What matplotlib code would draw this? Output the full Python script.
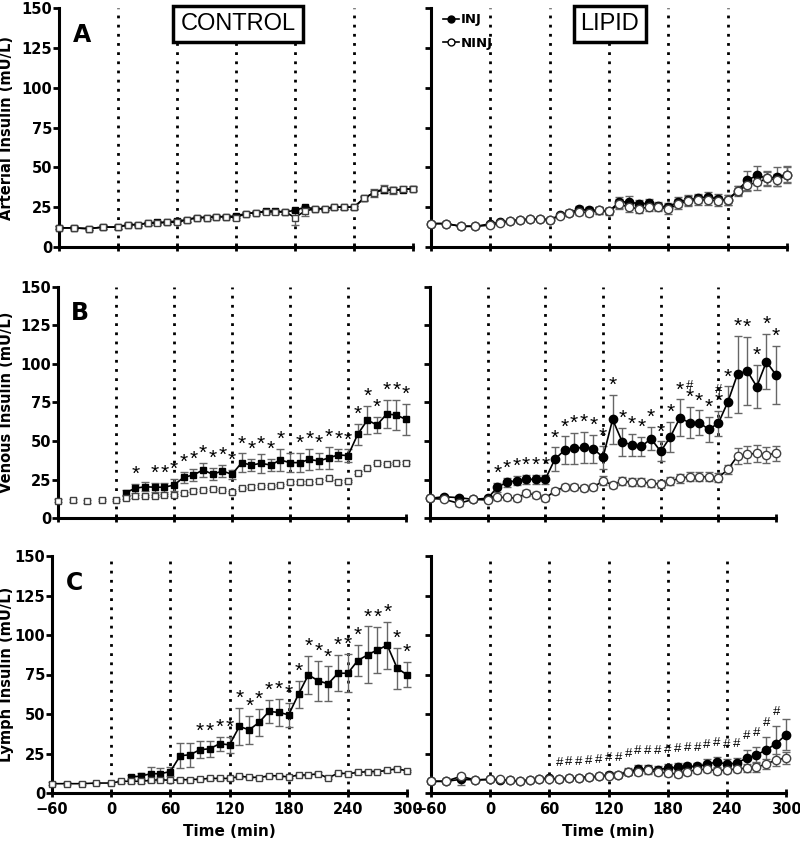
import numpy as np
import matplotlib.pyplot as plt

plt.rcParams['font.family'] = ['DejaVu Sans']

# Sampling times (min)
t = [-60, -45, -30, -15] + list(range(0, 301, 10))

# CONTROL - arterial
ctrl_art_ninj = [12, 12, 11.5, 12.5, 12.5, 14, 14, 15, 15, 15.5, 15.5, 17, 18.5, 18.5, 19, 19, 18.5,
                 21, 21.5, 22, 22, 22, 18.5, 22.5, 24, 24, 25, 25, 25, 30.5, 34, 36.5, 35.5, 36.5, 36.5]
ctrl_art_ninj_err = [1, 1, 1, 1, 1, 1, 1, 1, 1, 1, 1, 1, 1, 1, 1, 1, 1.5,
                     1, 1, 1.5, 1.5, 1, 5, 3, 1, 1, 1, 1, 1, 1.5, 2.5, 2.5, 2, 1.5, 1.5]
ctrl_art_inj = [12, 12, 11.5, 12.5, 12.5, 14, 14, 15, 15.5, 15.5, 16.5, 17, 18.5, 18.5, 19, 19, 19.5,
                21, 21.5, 22.5, 22.5, 22, 23, 25, 24, 24, 25, 25, 25, 30.5, 34, 36, 35.5, 36, 36.5]
ctrl_art_inj_err = [1] * 35

# LIPID - arterial
lip_art_ninj = [14.7, 14.7, 13, 13, 13.7, 15, 16.4, 17, 17.5, 17.7, 17, 19.4, 21.5, 22, 21.5, 23, 22.3,
                27, 25, 24, 25, 25, 24, 27, 29, 29.5, 29.5, 29, 29.5, 35, 39, 40.5, 43, 42, 45.5]
lip_art_ninj_err = [1, 1, 1, 1, 1, 1, 1, 1, 1, 1, 1, 1, 1.5, 2, 2, 2, 2,
                    3, 3, 2.5, 2.5, 2.5, 3, 3, 3, 3, 3, 3, 3, 3, 4, 5, 4, 4, 5.5]
lip_art_inj = [14.7, 14.7, 13, 13, 14.5, 15.5, 16.4, 17, 17.5, 17.7, 17, 20, 21.5, 23.6, 23, 23, 22.5,
               28, 28.5, 27, 27.4, 25.7, 25, 28.4, 29.5, 30.5, 31.6, 30, 29.5, 35.4, 42, 45, 43, 44, 45.5]
lip_art_inj_err = [1, 1, 1, 1, 1, 1, 1, 1, 1, 1, 1, 1, 1.5, 2, 2, 2, 2,
                   3.5, 3.5, 2.5, 2.5, 2.5, 2.5, 3, 3, 3, 3, 3, 3, 3, 6, 6, 5, 6, 5]

# CONTROL - venous (INJ starts at 10 min)
ctrl_ven_ninj = [11.3, 11.4, 10.8, 11.8, 11.8, 13.3, 14, 14.4, 14.4, 15, 15, 16, 17.8, 18.3, 19, 18.3, 16.8,
                 19.4, 20.4, 20.9, 20.9, 21.3, 23.2, 23.2, 23.2, 24.3, 25.8, 23.6, 23.9, 29.4, 32.5, 35.6, 35, 35.6, 36]
ctrl_ven_inj = [16.5, 19.3, 20.3, 20, 20, 21.4, 26.4, 27.9, 31.2, 28.4, 30.5, 28.4, 35.9, 34.4, 35.5,
                34.4, 37.7, 35.9, 36, 38, 37, 39, 41, 40.5, 54.3, 63.6, 60.4, 67.5, 66.9, 64]
ctrl_ven_inj_err = [1.5, 3, 3, 3, 3, 4, 3.5, 4, 4.5, 4, 4, 3, 6, 4, 6, 4, 7, 6, 6, 7, 5, 7, 4, 4,
                    7, 9, 5, 9, 10, 10]
ctrl_ven_stars = [20, 40, 50, 60, 70, 80, 90, 100, 110, 120, 130, 140, 150, 160, 170,
                  190, 200, 210, 220, 230, 240, 250, 260, 270, 280, 290, 300]

# LIPID - venous
lip_ven_ninj = [12.8, 12.1, 9.5, 12.1, 11.7, 13.4, 13.4, 12.8, 16, 15, 12.8, 17.7, 19.9, 19.9, 19.3, 19.9, 24.2,
                21.4, 24, 23.2, 23.5, 22.5, 22.1, 24, 25.8, 26.8, 26.8, 26.8, 26.2, 31.6, 40.3, 41.4, 42, 41, 42]
lip_ven_ninj_err = [1, 1, 1.5, 1, 1, 1.5, 1.5, 2, 2, 2, 2, 2, 2, 2, 2, 2, 3,
                    2, 2.5, 2.5, 2.5, 2.5, 2.5, 2.5, 3, 3, 3, 3, 3, 3, 5, 5.5, 5.5, 5, 5]
lip_ven_inj = [12.8, 13.8, 13.2, 12.1, 12.8, 19.9, 23.2, 24.2, 25.1, 25.1, 25.2, 38.3, 44, 45.2, 45.9, 45, 39.4,
               64, 49.5, 47.4, 46.5, 51.5, 43.2, 52.6, 65, 61.9, 61.9, 57.6, 61.5, 75.5, 93.5, 95.5, 85.3, 101.5, 92.9]
lip_ven_inj_err = [1, 1, 1, 1, 1, 3, 3, 3, 3, 3, 3, 7.5, 9, 10, 10, 9, 7.5,
                   16, 9, 7, 6, 7.5, 6.5, 10, 12, 10, 8, 8, 8, 10, 25, 22, 14, 18, 19]
lip_ven_stars = list(range(10, 301, 10))
lip_ven_hash = [210, 240]

# CONTROL - lymph (INJ starts at 20 min)
ctrl_lym_ninj = [5.9, 5.9, 5.9, 6.3, 6.3, 7.4, 7.4, 7.4, 8, 8.4, 8, 8.4, 8.4, 8.8, 9.2, 9.2, 9.2,
                 10.5, 10.1, 9.7, 10.9, 10.9, 10.1, 11.4, 11.4, 12.2, 9.5, 12.6, 12.2, 13, 13.5, 13.5, 14.3, 15.4, 14]
ctrl_lym_ninj_err = [0.8] * 35
ctrl_lym_inj = [10.1, 10.7, 12.2, 12.2, 13.6, 23.6, 24.2, 27.4, 28, 31.2, 30.5, 42.1, 40, 44.7, 51.6,
                51, 49.5, 62.6, 74.8, 71, 69.1, 75.8, 75.8, 83.8, 87.4, 90.6, 93.5, 79, 74.8]
ctrl_lym_inj_err = [1.5, 2, 4.5, 3.5, 3, 8, 7.5, 5.5, 5, 4.5, 5, 12, 9, 8.5, 7.5, 8.5, 7.5, 8.5,
                    12, 12.5, 11, 11.5, 12, 10, 18, 14.5, 15, 13, 8]
ctrl_lym_stars = list(range(90, 301, 10))

# LIPID - lymph
lip_lym_ninj = [7.4, 7.4, 10.5, 8.3, 8.6, 8.6, 8, 7.4, 8.3, 9.1, 8.8, 8.8, 9.4, 9.8, 10, 10.5, 10.9,
                11.1, 13.2, 13.6, 14.3, 13.2, 12.6, 12, 13.6, 14.7, 15.1, 14, 14.7, 15.1, 15.8, 16.4, 18.3, 21, 22.1]
lip_lym_ninj_err = [0.8, 0.8, 1.5, 0.8, 0.8, 0.8, 0.8, 0.8, 0.8, 1, 1, 1, 1, 1, 1, 1, 1,
                    1, 1.5, 2, 2, 2, 2, 2, 2, 2, 2, 2, 2, 2, 2.5, 3, 3, 4, 4]
lip_lym_inj = [7.4, 7.4, 8.6, 8.3, 8.6, 8.3, 8, 7.4, 8.3, 9.1, 9.4, 8.8, 9.4, 9.8, 10.2, 10.5, 11.6,
               11.6, 13.6, 15.1, 15.1, 14.7, 15.8, 16.2, 16.8, 16.8, 18.3, 19.6, 18.3, 18.9, 22.1, 24, 27.4, 31.2, 36.9]
lip_lym_inj_err = [0.8, 0.8, 3.5, 0.8, 0.8, 0.8, 0.8, 0.8, 0.8, 1, 1, 1, 1, 1, 1, 1, 1.5,
                   1.5, 2, 2.5, 2.5, 2.5, 2.5, 2.5, 2.5, 2.5, 3, 3, 3, 3, 5, 5, 8, 11, 10]
lip_lym_hash = list(range(70, 291, 10))

ylabels = ['Arterial Insulin (mU/L)', 'Venous Insulin (mU/L)', 'Lymph Insulin (mU/L)']
panel_letters = ['A', 'B', 'C']
xticks = [-60, 0, 60, 120, 180, 240, 300]
yticks = [0, 25, 50, 75, 100, 125, 150]

fig = plt.figure(figsize=(8, 8.41), dpi=100)
W, H = 800, 841


def add_ax(x0, x1, ytop, ybot):
    a = fig.add_axes([x0 / W, 1 - ybot / H, (x1 - x0) / W, (ybot - ytop) / H])
    a.px_left, a.px_width = x0, x1 - x0
    return a


axes = [[add_ax(59, 413, 8, 247), add_ax(431, 787, 8, 247)],
        [add_ax(58, 406, 287, 518), add_ax(430, 776, 287, 518)],
        [add_ax(52, 407, 556, 793), add_ax(431, 786, 556, 793)]]


def style(ax, left, bottom_labels):
    ax.set_xlim(-60, 300)
    ax.set_ylim(0, 150)
    for s in ['top', 'right']:
        ax.spines[s].set_visible(False)
    for s in ['left', 'bottom']:
        ax.spines[s].set_linewidth(2.2)
    for x in [0, 60, 120, 180, 240]:
        ax.axvline(x, color='k', lw=2, ls=(0, (1, 2.3)), zorder=1)
    ax.set_xticks(xticks)
    ax.set_yticks(yticks)
    ax.tick_params(axis='y', direction='out', length=4, width=2, labelsize=10.5, pad=1)
    ax.tick_params(axis='x', direction='inout', length=6, width=2, labelsize=10.5)
    if not left:
        ax.set_yticklabels([])
    if not bottom_labels:
        ax.set_xticklabels([])
    else:
        ax.set_xlabel('Time (min)', fontsize=11, fontweight='bold', labelpad=5)
    for lab in ax.get_xticklabels() + ax.get_yticklabels():
        lab.set_fontweight('bold')


def series(ax, x, y, e, marker, filled, line=True, ms=5):
    ax.errorbar(x, y, yerr=e, fmt='none', ecolor='0.4', elinewidth=1, capsize=3, capthick=1,
                zorder=2, clip_on=False)
    ax.plot(x, y, color='k' if line else 'none', lw=1.2, marker=marker, ms=ms,
            mfc='k' if filled else 'white', mec='k' if filled else '0.25', mew=1,
            zorder=3 if filled else 4, clip_on=False)


def marks(ax, x, y, e, times, sym, dy=0):
    for tt in times:
        i = x.index(tt)
        ax.annotate(sym, (tt, y[i] + e[i]), xytext=(0, dy), textcoords='offset points',
                    ha='center', va='bottom', fontsize=15 if sym == '*' else 9.5,
                    family='Liberation Sans', zorder=5)


for r in range(3):
    for c in range(2):
        style(axes[r][c], c == 0, r == 2)
    a0 = axes[r][0]
    a0.set_ylabel(ylabels[r], fontsize=10.5, fontweight='bold')
    a0.yaxis.set_label_coords((14 - a0.px_left) / a0.px_width, 0.5)
    a0.text(-37, 133, panel_letters[r], fontsize=17, fontweight='bold', ha='center', va='center')

# Row A
ax = axes[0][0]
series(ax, t, ctrl_art_inj, ctrl_art_inj_err, 's', True)
series(ax, t, ctrl_art_ninj, ctrl_art_ninj_err, 's', False)
ax.text(122, 140, 'CONTROL', fontsize=17, family='Liberation Sans', ha='center', va='center',
        bbox=dict(boxstyle='square,pad=0.3', fc='white', ec='k', lw=2.5))

ax = axes[0][1]
series(ax, t, lip_art_inj, lip_art_inj_err, 'o', True, ms=6)
series(ax, t, lip_art_ninj, lip_art_ninj_err, 'o', False, ms=6)
ax.text(121, 140, 'LIPID', fontsize=17, family='Liberation Sans', ha='center', va='center',
        bbox=dict(boxstyle='square,pad=0.3', fc='white', ec='k', lw=2.5))
h1, = ax.plot([], [], color='k', lw=1.2, marker='o', ms=5, mfc='k', mec='k')
h2, = ax.plot([], [], color='k', lw=1.2, marker='o', ms=5, mfc='white', mec='k')
ax.legend([h1, h2], ['INJ', 'NINJ'], loc='upper left', bbox_to_anchor=(0.02, 1.0), frameon=False,
          handlelength=1.2, handletextpad=0.1, labelspacing=0.8, borderaxespad=0,
          prop={'weight': 'bold', 'size': 9.5})

# Row B
ax = axes[1][0]
series(ax, t, ctrl_ven_ninj, [0.8] * 35, 's', False, line=False)
series(ax, t[5:], ctrl_ven_inj, ctrl_ven_inj_err, 's', True)
marks(ax, t[5:], ctrl_ven_inj, ctrl_ven_inj_err, ctrl_ven_stars, '*')

ax = axes[1][1]
series(ax, t, lip_ven_inj, lip_ven_inj_err, 'o', True, ms=6)
series(ax, t, lip_ven_ninj, lip_ven_ninj_err, 'o', False, ms=6)
marks(ax, t, lip_ven_inj, lip_ven_inj_err, lip_ven_stars, '*')
marks(ax, t, lip_ven_inj, lip_ven_inj_err, lip_ven_hash, '#', dy=11)

# Row C
ax = axes[2][0]
series(ax, t, ctrl_lym_ninj, ctrl_lym_ninj_err, 's', False)
series(ax, t[6:], ctrl_lym_inj, ctrl_lym_inj_err, 's', True)
marks(ax, t[6:], ctrl_lym_inj, ctrl_lym_inj_err, ctrl_lym_stars, '*')

ax = axes[2][1]
series(ax, t, lip_lym_inj, lip_lym_inj_err, 'o', True, ms=6)
series(ax, t, lip_lym_ninj, lip_lym_ninj_err, 'o', False, ms=6)
marks(ax, t, lip_lym_inj, lip_lym_inj_err, lip_lym_hash, '#', dy=6)

fig.savefig('out.png', dpi=100)
